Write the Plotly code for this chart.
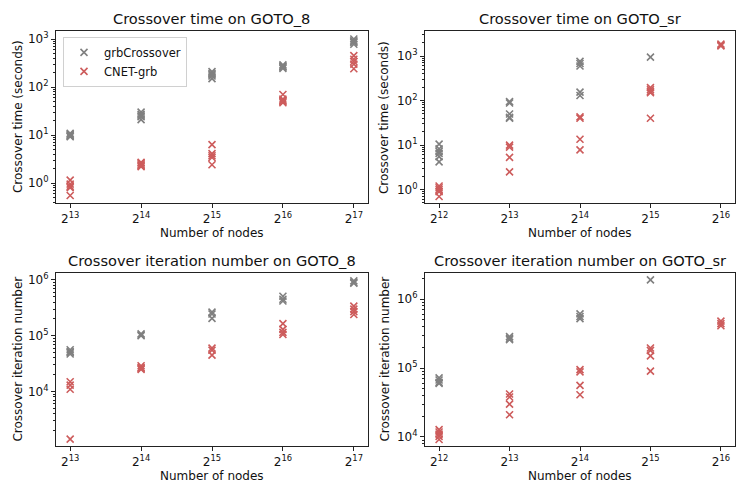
import math
import plotly.graph_objects as go

# ---------------- data ----------------
# Panel 1: Crossover time on GOTO_8
t8_grb_exp = [13, 13, 13, 13, 13, 14, 14, 14, 14, 14, 15, 15, 15, 15, 15, 16, 16, 16, 16, 16, 17, 17, 17, 17, 17]
t8_grb_val = [9.2, 9.8, 10.3, 10.8, 9.5, 21, 24, 27, 30, 25, 150, 170, 190, 210, 180, 245, 260, 275, 290, 265, 780, 850, 920, 1000, 880]
t8_cnet_exp = [13, 13, 13, 13, 13, 14, 14, 14, 14, 14, 15, 15, 15, 15, 15, 16, 16, 16, 16, 16, 17, 17, 17, 17, 17]
t8_cnet_val = [1.15, 0.95, 0.85, 0.8, 0.55, 2.2, 2.4, 2.6, 2.7, 2.3, 6.3, 4.1, 3.7, 3.4, 2.4, 70, 56, 50, 47, 52, 450, 380, 340, 300, 240]

# Panel 2: Crossover time on GOTO_sr
tsr_grb_exp = [12, 12, 12, 12, 12, 12, 13, 13, 13, 13, 13, 14, 14, 14, 14, 14, 15]
tsr_grb_val = [10.5, 8.2, 7.2, 6.5, 5.5, 4.2, 95, 88, 50, 42, 40, 760, 680, 600, 155, 130, 950]
tsr_cnet_exp = [12, 12, 12, 12, 12, 13, 13, 13, 13, 14, 14, 14, 14, 15, 15, 15, 15, 15, 16, 16, 16]
tsr_cnet_val = [1.2, 1.1, 1.0, 0.9, 0.7, 10, 9, 5.3, 2.5, 43, 40, 13.5, 7.8, 195, 175, 160, 150, 40, 1850, 1750, 1700]

# Panel 3: Crossover iteration number on GOTO_8
i8_grb_exp = [13, 13, 13, 13, 14, 14, 14, 15, 15, 15, 16, 16, 16, 17, 17, 17]
i8_grb_val = [56000, 52000, 47000, 50000, 108000, 103000, 100000, 265000, 245000, 205000, 510000, 450000, 420000, 960000, 900000, 870000]
i8_cnet_exp = [13, 13, 13, 13, 14, 14, 14, 14, 15, 15, 15, 16, 16, 16, 16, 17, 17, 17, 17]
i8_cnet_val = [15000, 13000, 11000, 1400, 29000, 27000, 26000, 25000, 60000, 55000, 45000, 165000, 130000, 115000, 105000, 340000, 300000, 270000, 240000]

# Panel 4: Crossover iteration number on GOTO_sr
isr_grb_exp = [12, 12, 12, 12, 13, 13, 13, 14, 14, 14, 15]
isr_grb_val = [72000, 67000, 62000, 60000, 285000, 270000, 258000, 610000, 560000, 520000, 1900000]
isr_cnet_exp = [12, 12, 12, 12, 12, 13, 13, 13, 13, 14, 14, 14, 14, 15, 15, 15, 15, 16, 16, 16]
isr_cnet_val = [12800, 11800, 11000, 10200, 9200, 42000, 38000, 30000, 21000, 95000, 88000, 56000, 41000, 195000, 180000, 150000, 90000, 480000, 440000, 410000]

titles = ["Crossover time on GOTO_8", "Crossover time on GOTO_sr",
          "Crossover iteration number on GOTO_8", "Crossover iteration number on GOTO_sr"]
ylabels = ["Crossover time (seconds)", "Crossover time (seconds)",
           "Crossover iteration number", "Crossover iteration number"]
xlabel = "Number of nodes"
series_names = ["grbCrossover", "CNET-grb"]

# ---------------- styling / layout ----------------
W, H = 747, 498
GREY = "#808080"
RED = "#cd5c5c"
FONT = "DejaVu Sans"

# plot boxes in pixels: (left, right, top, bottom)
boxes = [(56, 368, 29, 202), (425, 735, 29, 202), (56, 368, 272, 446), (425, 735, 272, 446)]
ylab_off = [38, 41, 38, 40]
xexp_ranges = [(12.8, 17.2), (11.8, 16.2), (12.8, 17.2), (11.8, 16.2)]
ylog_ranges = [(-0.42, 3.17), (-0.306, 3.566), (3.02, 6.126), (3.866, 6.38)]
ymajor = [[0, 1, 2, 3], [0, 1, 2, 3], [4, 5, 6], [4, 5, 6]]

panels = [
    (t8_grb_exp, t8_grb_val, t8_cnet_exp, t8_cnet_val),
    (tsr_grb_exp, tsr_grb_val, tsr_cnet_exp, tsr_cnet_val),
    (i8_grb_exp, i8_grb_val, i8_cnet_exp, i8_cnet_val),
    (isr_grb_exp, isr_grb_val, isr_cnet_exp, isr_cnet_val),
]

fig = go.Figure()
annotations = []
layout_axes = {}

for i, (ge, gv, ce, cv) in enumerate(panels):
    n = i + 1
    xa = "x" if n == 1 else f"x{n}"
    ya = "y" if n == 1 else f"y{n}"
    for (ex, vals, color, name) in [(ge, gv, GREY, series_names[0]), (ce, cv, RED, series_names[1])]:
        fig.add_trace(go.Scatter(
            x=[2 ** e for e in ex], y=vals, mode="markers", name=name,
            showlegend=(i == 0), legendgroup=name,
            marker=dict(symbol="x-thin", size=7, color=color,
                        line=dict(color=color, width=1.6)),
            xaxis=xa, yaxis=ya,
        ))
    l, r, t, b = boxes[i]
    xd = [l / W, r / W]
    yd = [1 - b / H, 1 - t / H]
    x0, x1 = xexp_ranges[i]
    xt = list(range(math.ceil(x0), math.floor(x1) + 1))
    y0, y1 = ylog_ranges[i]
    minor_vals = [m * 10 ** d for d in range(math.floor(y0) - 1, math.ceil(y1) + 1)
                  for m in range(2, 10)]
    axcommon = dict(showline=True, mirror=True, linecolor="#222", linewidth=1,
                    ticks="outside", ticklen=4, tickwidth=1, tickcolor="#222",
                    showgrid=False, zeroline=False,
                    tickfont=dict(family=FONT, size=12, color="#111"))
    layout_axes["xaxis" if n == 1 else f"xaxis{n}"] = dict(
        axcommon, type="log", domain=xd,
        range=[x0 * math.log10(2), x1 * math.log10(2)],
        tickvals=[2 ** k for k in xt], ticktext=[f"2<sup>{k}</sup>" for k in xt],
        anchor=ya)
    layout_axes["yaxis" if n == 1 else f"yaxis{n}"] = dict(
        axcommon, type="log", domain=yd, range=[y0, y1],
        tickvals=[10 ** k for k in ymajor[i]],
        ticktext=[f"10<sup>{k}</sup>" for k in ymajor[i]],
        minor=dict(tickvals=minor_vals, ticks="outside", ticklen=2,
                   tickcolor="#222", showgrid=False),
        anchor=xa)
    # title
    annotations.append(dict(text=titles[i], x=(l + r) / 2 / W, y=1 - (t - 12) / H,
                            xref="paper", yref="paper", xanchor="center", yanchor="middle",
                            showarrow=False, font=dict(family=FONT, size=14.6, color="#111")))
    # x label
    annotations.append(dict(text=xlabel, x=(l + r) / 2 / W, y=1 - (b + 30) / H,
                            xref="paper", yref="paper", xanchor="center", yanchor="middle",
                            showarrow=False, font=dict(family=FONT, size=12, color="#111")))
    # y label
    annotations.append(dict(text=ylabels[i], x=(l - ylab_off[i]) / W, y=1 - ((t + b) / 2) / H,
                            xref="paper", yref="paper", xanchor="center", yanchor="middle",
                            textangle=-90, showarrow=False,
                            font=dict(family=FONT, size=12, color="#111")))

fig.update_layout(
    width=W, height=H, margin=dict(l=0, r=0, t=0, b=0),
    paper_bgcolor="white", plot_bgcolor="white",
    font=dict(family=FONT, size=12, color="#111"),
    annotations=annotations,
    hovermode=False,
    legend=dict(x=63 / W, y=1 - 35 / H, xanchor="left", yanchor="top",
                bordercolor="#d0d0d0", borderwidth=1, bgcolor="rgba(255,255,255,0.8)",
                font=dict(family=FONT, size=11.5, color="#111"),
                itemsizing="trace", tracegroupgap=0, itemwidth=30),
    **layout_axes,
)

fig.write_html("out.html", config={"displayModeBar": False},
               post_script="document.body.style.margin='0px';document.body.style.padding='0px';")
